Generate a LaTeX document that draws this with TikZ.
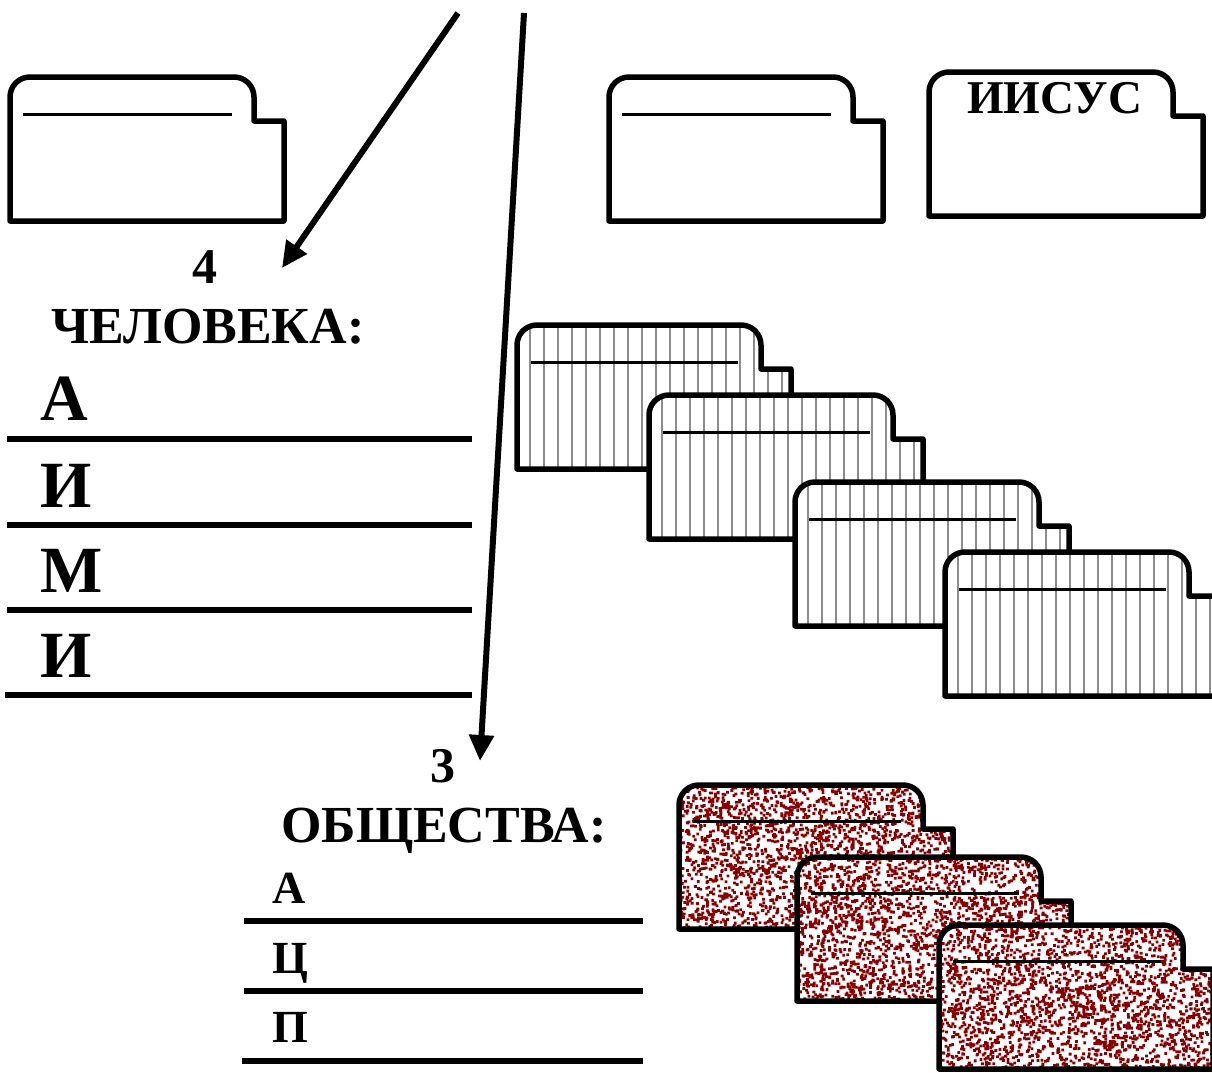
\documentclass[tikz,border=0pt]{standalone}
\usepackage{fontspec}
\setmainfont{Liberation Serif}
\usetikzlibrary{arrows.meta}
\definecolor{speckle}{RGB}{139,0,0}
\newcommand{\cardoutline}{(0,144) -- (0,20) arc[start angle=180,end angle=270,radius=20] -- (224,0) arc[start angle=270,end angle=360,radius=20] -- (244,44) -- (274,44) -- (274,144) -- cycle}

\begin{document}
\begin{tikzpicture}[x=1pt,y=-1pt,line join=round,
  border/.style={line width=5.5pt},
  tabline/.style={line width=3pt},
  rule/.style={line width=6.5pt},
  pointer/.style={line width=6pt,-{Triangle[length=26pt,width=24pt]}},
  numeral/.style={inner sep=0pt,anchor=base,font=\fontsize{50}{56}\selectfont\bfseries},
  heading/.style={inner sep=0pt,anchor=base west,font=\fontsize{52}{58}\selectfont\bfseries},
  biglet/.style={inner sep=0pt,anchor=base west,font=\fontsize{66}{72}\selectfont\bfseries},
  smalllet/.style={inner sep=0pt,anchor=base west,font=\fontsize{46}{52}\selectfont\bfseries},
  pics/plaincard/.style={code={
    \fill[white] \cardoutline;
    \draw[tabline] (13,37) -- (222,37);
    \draw[border] \cardoutline;}},
  pics/stripedcard/.style={code={
    \fill[white] \cardoutline;
    \begin{scope}
    \clip \cardoutline;
    \foreach \h in {13,27,...,272} \draw[black!45,line width=1.6pt] (\h,0) -- (\h,144);
    \end{scope}
    \draw[tabline] (14,37) -- (221,37);
    \draw[border] \cardoutline;}},
  pics/speckledcard/.style={code={
    \fill[white] \cardoutline;
    \begin{scope}
    \clip \cardoutline;
    \fill[speckle] \foreach \d in {1,...,2400} {({rnd*274},{rnd*144}) rectangle ++(2.8,2.8)};
    \end{scope}
    \draw[tabline] (14,36) -- (222,36);
    \draw[border] \cardoutline;}}]
\useasboundingbox (0,0) rectangle (1212,1072);
\pgfmathsetseed{17}

\pic at (10,77) {plaincard};
\pic at (609,77) {plaincard};
\begin{scope}[shift={(929,72)}]
\fill[white] \cardoutline;
\draw[border] \cardoutline;
\end{scope}
\node[inner sep=0pt,anchor=base west,font=\fontsize{47}{52}\selectfont\bfseries] (jesus) at (967,113) {ИИСУС};

\pic at (517,325) {stripedcard};
\pic at (649,395) {stripedcard};
\pic at (795,482) {stripedcard};
\pic at (945,552) {stripedcard};

\pic at (679,785) {speckledcard};
\pic at (797,857) {speckledcard};
\pic at (939,925) {speckledcard};

\coordinate (from4) at (458,13);
\coordinate (to4) at (282,268);
\coordinate (from3) at (524,13);
\coordinate (to3) at (480,761);
\draw[pointer] (from4) -- (to4);
\draw[pointer] (from3) -- (to3);

\node[numeral] (four) at (205,283) {4};
\node[heading] (person) at (51,343) {ЧЕЛОВЕКА:};
\node[biglet] (pa) at (40,420) {А};
\node[biglet] (pi) at (40,507) {И};
\node[biglet] (pm) at (40,592) {М};
\node[biglet] (pj) at (40,677) {И};
\draw[rule] (7,439) -- (472,439);
\draw[rule] (7,525) -- (472,525);
\draw[rule] (7,610) -- (472,610);
\draw[rule] (5,695) -- (472,695);

\node[numeral] (three) at (443,782) {3};
\node[heading] (society) at (281,842) {ОБЩЕСТВА:};
\node[smalllet] (sa) at (272,903) {А};
\node[smalllet] (sc) at (272,973) {Ц};
\node[smalllet] (sp) at (272,1042) {П};
\draw[rule] (244,921) -- (643,921);
\draw[rule] (244,991) -- (643,991);
\draw[rule] (242,1061) -- (643,1061);
\end{tikzpicture}
\end{document}
